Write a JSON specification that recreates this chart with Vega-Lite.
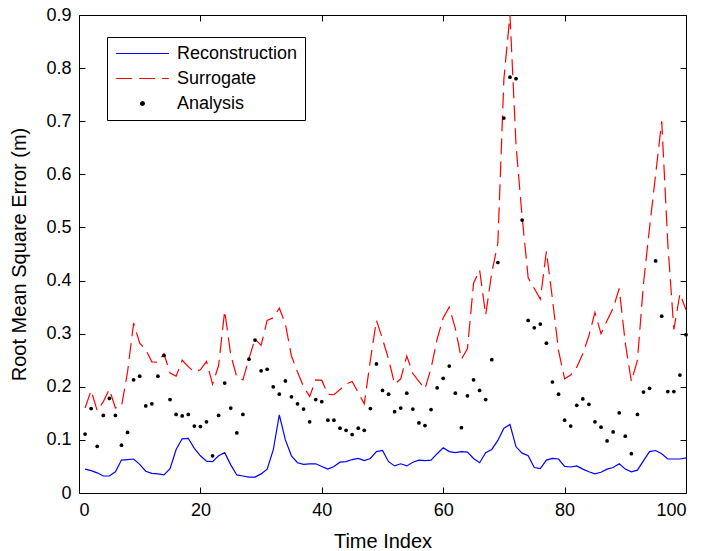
{
  "$schema": "https://vega.github.io/schema/vega-lite/v6.json",
  "autosize": {"type": "none"},
  "padding": {"left": 79, "top": 15, "right": 17, "bottom": 58},
  "width": 607,
  "height": 478,
  "background": "white",
  "config": {
    "view": {"stroke": "black", "strokeWidth": 1},
    "font": "Liberation Sans",
    "axis": {"labelFont": "Liberation Sans", "titleFont": "Liberation Sans", "labelColor": "black", "titleColor": "black", "tickColor": "black", "titleFontWeight": "normal", "grid": false, "domain": false}
  },
  "data": {"values": [
    {"t":1,"Reconstruction":0.045,"Surrogate":0.160,"Analysis":0.111},
    {"t":2,"Reconstruction":0.042,"Surrogate":0.193,"Analysis":0.159},
    {"t":3,"Reconstruction":0.038,"Surrogate":0.155,"Analysis":0.088},
    {"t":4,"Reconstruction":0.032,"Surrogate":0.172,"Analysis":0.146},
    {"t":5,"Reconstruction":0.032,"Surrogate":0.195,"Analysis":0.178},
    {"t":6,"Reconstruction":0.040,"Surrogate":0.160,"Analysis":0.146},
    {"t":7,"Reconstruction":0.062,"Surrogate":0.163,"Analysis":0.090},
    {"t":8,"Reconstruction":0.063,"Surrogate":0.228,"Analysis":0.114},
    {"t":9,"Reconstruction":0.064,"Surrogate":0.320,"Analysis":0.213},
    {"t":10,"Reconstruction":0.054,"Surrogate":0.282,"Analysis":0.220},
    {"t":11,"Reconstruction":0.041,"Surrogate":0.270,"Analysis":0.164},
    {"t":12,"Reconstruction":0.037,"Surrogate":0.247,"Analysis":0.168},
    {"t":13,"Reconstruction":0.036,"Surrogate":0.246,"Analysis":0.220},
    {"t":14,"Reconstruction":0.034,"Surrogate":0.262,"Analysis":0.259},
    {"t":15,"Reconstruction":0.046,"Surrogate":0.226,"Analysis":0.176},
    {"t":16,"Reconstruction":0.082,"Surrogate":0.220,"Analysis":0.148},
    {"t":17,"Reconstruction":0.102,"Surrogate":0.250,"Analysis":0.145},
    {"t":18,"Reconstruction":0.103,"Surrogate":0.238,"Analysis":0.148},
    {"t":19,"Reconstruction":0.084,"Surrogate":0.228,"Analysis":0.126},
    {"t":20,"Reconstruction":0.070,"Surrogate":0.232,"Analysis":0.125},
    {"t":21,"Reconstruction":0.060,"Surrogate":0.248,"Analysis":0.134},
    {"t":22,"Reconstruction":0.059,"Surrogate":0.205,"Analysis":0.070},
    {"t":23,"Reconstruction":0.070,"Surrogate":0.240,"Analysis":0.146},
    {"t":24,"Reconstruction":0.076,"Surrogate":0.343,"Analysis":0.207},
    {"t":25,"Reconstruction":0.053,"Surrogate":0.260,"Analysis":0.160},
    {"t":26,"Reconstruction":0.034,"Surrogate":0.218,"Analysis":0.113},
    {"t":27,"Reconstruction":0.032,"Surrogate":0.213,"Analysis":0.148},
    {"t":28,"Reconstruction":0.030,"Surrogate":0.253,"Analysis":0.252},
    {"t":29,"Reconstruction":0.030,"Surrogate":0.290,"Analysis":0.288},
    {"t":30,"Reconstruction":0.036,"Surrogate":0.278,"Analysis":0.230},
    {"t":31,"Reconstruction":0.045,"Surrogate":0.325,"Analysis":0.233},
    {"t":32,"Reconstruction":0.081,"Surrogate":0.330,"Analysis":0.200},
    {"t":33,"Reconstruction":0.147,"Surrogate":0.348,"Analysis":0.186},
    {"t":34,"Reconstruction":0.100,"Surrogate":0.318,"Analysis":0.211},
    {"t":35,"Reconstruction":0.070,"Surrogate":0.258,"Analysis":0.181},
    {"t":36,"Reconstruction":0.057,"Surrogate":0.228,"Analysis":0.168},
    {"t":37,"Reconstruction":0.054,"Surrogate":0.200,"Analysis":0.158},
    {"t":38,"Reconstruction":0.055,"Surrogate":0.182,"Analysis":0.134},
    {"t":39,"Reconstruction":0.055,"Surrogate":0.213,"Analysis":0.176},
    {"t":40,"Reconstruction":0.050,"Surrogate":0.212,"Analysis":0.172},
    {"t":41,"Reconstruction":0.045,"Surrogate":0.186,"Analysis":0.137},
    {"t":42,"Reconstruction":0.050,"Surrogate":0.185,"Analysis":0.137},
    {"t":43,"Reconstruction":0.058,"Surrogate":0.195,"Analysis":0.122},
    {"t":44,"Reconstruction":0.059,"Surrogate":0.205,"Analysis":0.118},
    {"t":45,"Reconstruction":0.063,"Surrogate":0.210,"Analysis":0.110},
    {"t":46,"Reconstruction":0.065,"Surrogate":0.189,"Analysis":0.122},
    {"t":47,"Reconstruction":0.061,"Surrogate":0.168,"Analysis":0.118},
    {"t":48,"Reconstruction":0.065,"Surrogate":0.250,"Analysis":0.159},
    {"t":49,"Reconstruction":0.078,"Surrogate":0.325,"Analysis":0.243},
    {"t":50,"Reconstruction":0.080,"Surrogate":0.290,"Analysis":0.193},
    {"t":51,"Reconstruction":0.059,"Surrogate":0.252,"Analysis":0.186},
    {"t":52,"Reconstruction":0.051,"Surrogate":0.205,"Analysis":0.153},
    {"t":53,"Reconstruction":0.055,"Surrogate":0.215,"Analysis":0.160},
    {"t":54,"Reconstruction":0.051,"Surrogate":0.258,"Analysis":0.188},
    {"t":55,"Reconstruction":0.058,"Surrogate":0.225,"Analysis":0.158},
    {"t":56,"Reconstruction":0.062,"Surrogate":0.210,"Analysis":0.132},
    {"t":57,"Reconstruction":0.061,"Surrogate":0.196,"Analysis":0.127},
    {"t":58,"Reconstruction":0.062,"Surrogate":0.235,"Analysis":0.157},
    {"t":59,"Reconstruction":0.074,"Surrogate":0.290,"Analysis":0.198},
    {"t":60,"Reconstruction":0.085,"Surrogate":0.330,"Analysis":0.216},
    {"t":61,"Reconstruction":0.078,"Surrogate":0.350,"Analysis":0.239},
    {"t":62,"Reconstruction":0.076,"Surrogate":0.310,"Analysis":0.188},
    {"t":63,"Reconstruction":0.078,"Surrogate":0.252,"Analysis":0.123},
    {"t":64,"Reconstruction":0.077,"Surrogate":0.272,"Analysis":0.183},
    {"t":65,"Reconstruction":0.065,"Surrogate":0.395,"Analysis":0.213},
    {"t":66,"Reconstruction":0.057,"Surrogate":0.420,"Analysis":0.193},
    {"t":67,"Reconstruction":0.076,"Surrogate":0.335,"Analysis":0.176},
    {"t":68,"Reconstruction":0.082,"Surrogate":0.415,"Analysis":0.251},
    {"t":69,"Reconstruction":0.099,"Surrogate":0.470,"Analysis":0.434},
    {"t":70,"Reconstruction":0.122,"Surrogate":0.780,"Analysis":0.706},
    {"t":71,"Reconstruction":0.129,"Surrogate":0.900,"Analysis":0.783},
    {"t":72,"Reconstruction":0.087,"Surrogate":0.655,"Analysis":0.780},
    {"t":73,"Reconstruction":0.075,"Surrogate":0.520,"Analysis":0.514},
    {"t":74,"Reconstruction":0.070,"Surrogate":0.405,"Analysis":0.325},
    {"t":75,"Reconstruction":0.048,"Surrogate":0.385,"Analysis":0.311},
    {"t":76,"Reconstruction":0.046,"Surrogate":0.365,"Analysis":0.318},
    {"t":77,"Reconstruction":0.062,"Surrogate":0.455,"Analysis":0.282},
    {"t":78,"Reconstruction":0.065,"Surrogate":0.365,"Analysis":0.209},
    {"t":79,"Reconstruction":0.064,"Surrogate":0.268,"Analysis":0.186},
    {"t":80,"Reconstruction":0.050,"Surrogate":0.215,"Analysis":0.137},
    {"t":81,"Reconstruction":0.049,"Surrogate":0.222,"Analysis":0.126},
    {"t":82,"Reconstruction":0.051,"Surrogate":0.237,"Analysis":0.165},
    {"t":83,"Reconstruction":0.045,"Surrogate":0.262,"Analysis":0.177},
    {"t":84,"Reconstruction":0.040,"Surrogate":0.296,"Analysis":0.167},
    {"t":85,"Reconstruction":0.036,"Surrogate":0.340,"Analysis":0.134},
    {"t":86,"Reconstruction":0.039,"Surrogate":0.300,"Analysis":0.124},
    {"t":87,"Reconstruction":0.045,"Surrogate":0.325,"Analysis":0.098},
    {"t":88,"Reconstruction":0.048,"Surrogate":0.348,"Analysis":0.115},
    {"t":89,"Reconstruction":0.055,"Surrogate":0.385,"Analysis":0.151},
    {"t":90,"Reconstruction":0.045,"Surrogate":0.282,"Analysis":0.107},
    {"t":91,"Reconstruction":0.040,"Surrogate":0.210,"Analysis":0.074},
    {"t":92,"Reconstruction":0.043,"Surrogate":0.250,"Analysis":0.148},
    {"t":93,"Reconstruction":0.061,"Surrogate":0.395,"Analysis":0.190},
    {"t":94,"Reconstruction":0.078,"Surrogate":0.500,"Analysis":0.197},
    {"t":95,"Reconstruction":0.080,"Surrogate":0.600,"Analysis":0.437},
    {"t":96,"Reconstruction":0.074,"Surrogate":0.700,"Analysis":0.333},
    {"t":97,"Reconstruction":0.064,"Surrogate":0.470,"Analysis":0.191},
    {"t":98,"Reconstruction":0.064,"Surrogate":0.308,"Analysis":0.191},
    {"t":99,"Reconstruction":0.064,"Surrogate":0.375,"Analysis":0.222},
    {"t":100,"Reconstruction":0.066,"Surrogate":0.345,"Analysis":0.298}
  ]},
  "transform": [{"fold": ["Reconstruction", "Surrogate", "Analysis"], "as": ["series", "value"]}],
  "encoding": {
    "color": {
      "field": "series", "type": "nominal",
      "scale": {"domain": ["Reconstruction", "Surrogate", "Analysis"], "range": ["#0000ff", "#ff0000", "#000000"]},
      "legend": {
        "title": null, "orient": "none", "legendX": 28, "legendY": 22,
        "fillColor": "white", "strokeColor": "black", "padding": 7,
        "labelFont": "Liberation Sans", "labelFontSize": 18, "labelColor": "black", "labelLimit": 0,
        "symbolType": "stroke", "symbolSize": 289, "symbolStrokeWidth": 1.2,
        "rowPadding": 6, "labelOffset": 44,
        "encode": {"symbols": {"update": {
          "x": {"value": 28.5},
          "shape": {"signal": "datum.value === 'Analysis' ? 'circle' : 'M-3.1,0H3.1'"},
          "size": {"signal": "datum.value === 'Analysis' ? 14 : 289"},
          "fill": {"signal": "datum.value === 'Analysis' ? 'black' : 'transparent'"},
          "stroke": {"signal": "datum.value === 'Analysis' ? 'transparent' : (datum.value === 'Surrogate' ? '#ff0000' : '#0000ff')"},
          "strokeDash": {"signal": "datum.value === 'Surrogate' ? [16, 7] : [1, 0]"},
          "strokeWidth": {"value": 1.2},
          "opacity": {"value": 1}
        }}}
      }
    }
  },
  "layer": [
    {
      "transform": [{"filter": "datum.series === 'Reconstruction'"}],
      "mark": {"type": "line", "strokeWidth": 1.2},
      "encoding": {
        "x": {"field": "t", "type": "quantitative", "scale": {"domain": [0, 100], "nice": false},
          "axis": {"orient": "bottom", "values": [0, 20, 40, 60, 80, 100], "tickSize": -6, "labelPadding": 14, "labelFontSize": 18, "titleFontSize": 20, "title": "Time Index", "titlePadding": 12}},
        "y": {"field": "value", "type": "quantitative", "scale": {"domain": [0, 0.9], "nice": false},
          "axis": {"orient": "left", "values": [0, 0.1, 0.2, 0.3, 0.4, 0.5, 0.6, 0.7, 0.8, 0.9], "format": "~g", "tickSize": -6, "labelPadding": 14, "labelFontSize": 18, "titleFontSize": 20, "title": "Root Mean Square Error (m)", "titlePadding": 16}}
      }
    },
    {
      "transform": [{"filter": "datum.series === 'Surrogate'"}],
      "mark": {"type": "line", "strokeWidth": 1.2, "strokeDash": [16, 7]},
      "encoding": {
        "x": {"field": "t", "type": "quantitative", "scale": {"domain": [0, 100], "nice": false},
          "axis": {"orient": "top", "values": [0, 20, 40, 60, 80, 100], "tickSize": -6, "labels": false, "title": null}},
        "y": {"field": "value", "type": "quantitative", "scale": {"domain": [0, 0.9], "nice": false},
          "axis": {"orient": "right", "values": [0, 0.1, 0.2, 0.3, 0.4, 0.5, 0.6, 0.7, 0.8, 0.9], "tickSize": -6, "labels": false, "title": null}}
      }
    },
    {
      "transform": [{"filter": "datum.series === 'Analysis'"}],
      "mark": {"type": "point", "filled": true, "size": 14, "opacity": 1},
      "encoding": {
        "x": {"field": "t", "type": "quantitative", "scale": {"domain": [0, 100], "nice": false}, "axis": null},
        "y": {"field": "value", "type": "quantitative", "scale": {"domain": [0, 0.9], "nice": false}, "axis": null}
      }
    }
  ],
  "resolve": {"axis": {"x": "independent", "y": "independent"}}
}
